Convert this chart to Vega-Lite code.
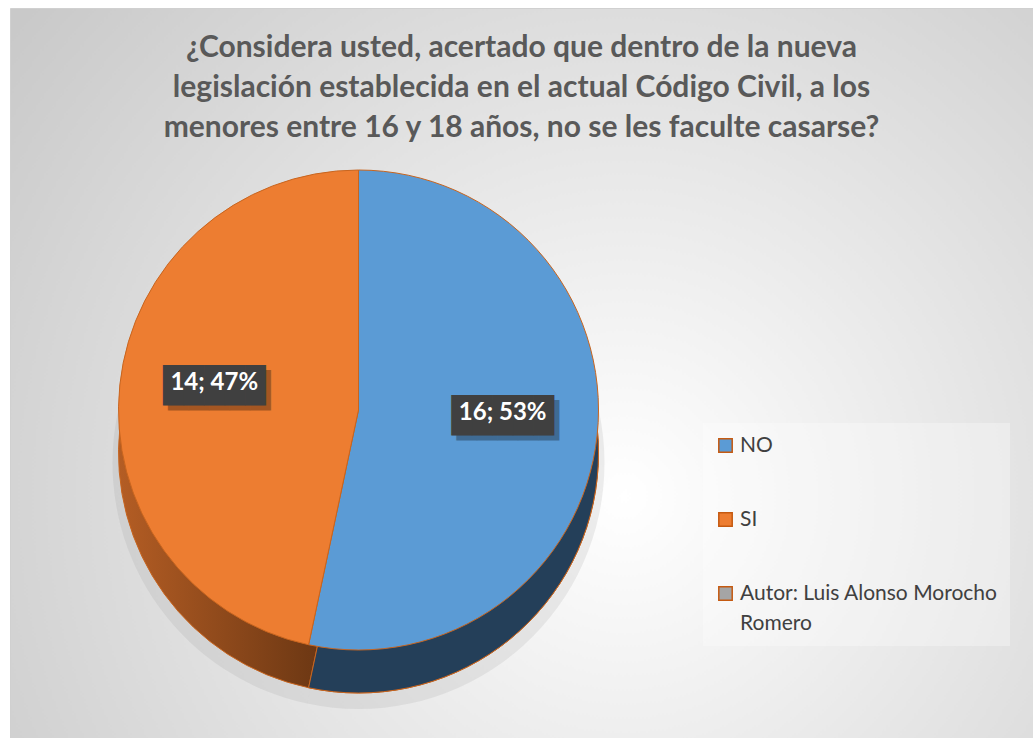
{
  "$schema": "https://vega.github.io/schema/vega-lite/v6.json",
  "autosize": "none",
  "width": 1023,
  "height": 730,
  "padding": {"left": 10, "top": 8, "right": 0, "bottom": 0},
  "background": "#ffffff",
  "view": {
    "stroke": "#d0d0d0",
    "fill": {
      "gradient": "radial",
      "x1": 0.6, "y1": 0.62, "r1": 0,
      "x2": 0.6, "y2": 0.62, "r2": 0.75,
      "stops": [
        {"offset": 0, "color": "#ffffff"},
        {"offset": 1, "color": "#c9c9c9"}
      ]
    }
  },
  "config": {
    "font": "Lato",
    "style": {"guide-label": {"lineHeight": 30}}
  },
  "title": {
    "text": [
      "¿Considera usted, acertado que dentro de la nueva",
      "legislación establecida en el actual Código Civil, a los",
      "menores entre 16 y 18 años, no se les faculte casarse?"
    ],
    "anchor": "middle",
    "font": "Lato",
    "fontSize": 30,
    "fontWeight": "bold",
    "color": "#595959",
    "lineHeight": 40,
    "offset": -135
  },
  "data": {
    "values": [
      {"respuesta": "NO", "cantidad": 16, "etiqueta": "16; 53%"},
      {"respuesta": "SI", "cantidad": 14, "etiqueta": "14; 47%"}
    ]
  },
  "encoding": {
    "theta": {"field": "cantidad", "type": "quantitative", "stack": true},
    "order": {"field": "respuesta", "type": "ordinal", "sort": "ascending"}
  },
  "layer": [
    {
      "mark": {"type": "arc", "outerRadius": 246, "xOffset": -163, "yOffset": 90, "color": "#8c8c8c", "opacity": 0.15},
      "encoding": {}
    },
    {
      "mark": {
        "type": "arc", "outerRadius": 240, "xOffset": -163, "yOffset": 80, "stroke": "#c8651f", "strokeWidth": 1,
        "color": {"gradient": "linear", "x1": 0, "y1": 0, "x2": 1, "y2": 0,
                  "stops": [{"offset": 0, "color": "#b45d24"}, {"offset": 1, "color": "#5e3010"}]}
      },
      "encoding": {}
    },
    {
      "mark": {"type": "arc", "outerRadius": 240, "xOffset": -163, "yOffset": 80, "stroke": "#c8651f", "strokeWidth": 1, "color": "#243f59"},
      "encoding": {
        "opacity": {"condition": {"test": "datum.respuesta == 'NO'", "value": 1}, "value": 0}
      }
    },
    {
      "mark": {"type": "arc", "outerRadius": 240, "xOffset": -163, "yOffset": 37, "stroke": "#c8651f", "strokeWidth": 1},
      "encoding": {
        "color": {
          "field": "respuesta", "type": "nominal",
          "scale": {
            "domain": ["NO", "SI", "Autor: Luis Alonso Morocho Romero"],
            "range": ["#5b9bd5", "#ed7d31", "#a5a5a5"]
          },
          "legend": {
            "title": null,
            "orient": "none",
            "legendX": 693,
            "legendY": 415,
            "padding": 12,
            "fillColor": "rgba(255,255,255,0.3)",
            "symbolType": "square",
            "symbolSize": 180,
            "symbolStrokeColor": "#c55a11",
            "symbolStrokeWidth": 1.5,
            "symbolOpacity": 1,
            "labelFont": "Lato",
            "labelFontSize": 21,
            "labelColor": "#404040",
            "labelOffset": 4,
            "labelLimit": 320,
            "rowPadding": 52,
            "labelExpr": "datum.label == 'Autor: Luis Alonso Morocho Romero' ? ['Autor: Luis Alonso Morocho', 'Romero'] : datum.label"
          }
        }
      }
    },
    {
      "mark": {"type": "text", "radius": 145, "dx": -158, "dy": 34, "font": "DejaVu Sans Mono", "fontSize": 34, "baseline": "middle", "align": "center", "color": "#000000", "opacity": 0.3},
      "encoding": {"text": {"value": "█████"}}
    },
    {
      "mark": {"type": "text", "radius": 145, "dx": -163, "dy": 29, "font": "DejaVu Sans Mono", "fontSize": 34, "baseline": "middle", "align": "center", "color": "#404040"},
      "encoding": {"text": {"value": "█████"}}
    },
    {
      "mark": {"type": "text", "radius": 145, "dx": -163, "dy": 25, "font": "Lato", "fontSize": 24, "fontWeight": "bold", "baseline": "middle", "align": "center", "color": "#ffffff"},
      "encoding": {"text": {"field": "etiqueta", "type": "nominal"}}
    }
  ]
}
